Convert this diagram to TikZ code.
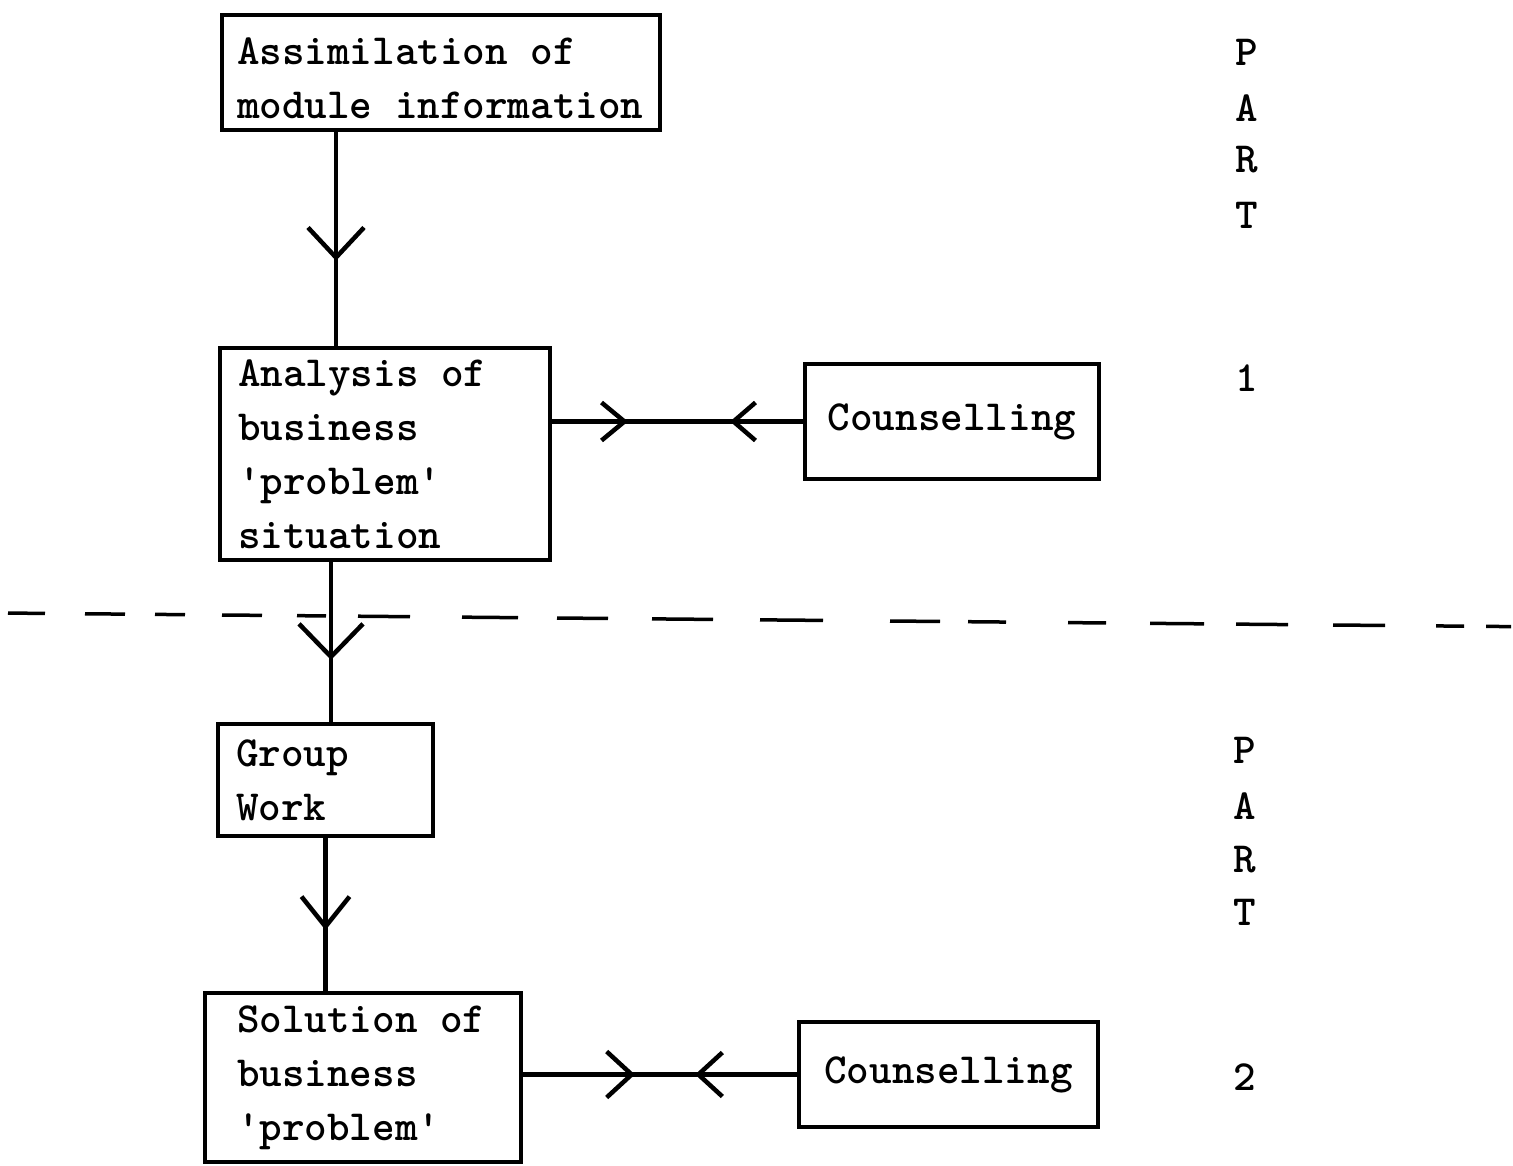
\documentclass[tikz,border=0pt]{standalone}
\usepackage{fontspec}
\usetikzlibrary{arrows.meta,decorations.markings}
\newcommand\twfont{\ttfamily\bfseries\fontsize{43}{54}\selectfont}
\tikzset{
  box/.style={draw, line width=3.5pt, outer sep=0pt, align=left, inner xsep=18pt, inner ysep=0pt, anchor=north west, font=\twfont, execute at begin node={\spaceskip=0pt\xspaceskip=0pt}},
  cbox/.style={draw, line width=3.5pt, outer sep=0pt, align=center, inner sep=0pt, anchor=north west, font=\twfont},
  lbl/.style={font=\twfont, inner sep=0pt},
  conn/.style={line width=4.5pt},
  fwdtip/.style args={#1/#2/#3}{postaction={decorate,decoration={markings,mark=at position #1 with {\arrow[line width=4.5pt]{Straight Barb[length=#2pt,width=#3pt]}}}}},
  bwdtip/.style args={#1/#2/#3}{postaction={decorate,decoration={markings,mark=at position #1 with {\arrowreversed[line width=4.5pt]{Straight Barb[length=#2pt,width=#3pt]}}}}},
  sep/.style={line width=3.5pt}
}
\begin{document}
\begin{tikzpicture}[x=1pt,y=-1pt]
\useasboundingbox (0,0) rectangle (1513,1166);
% boxes
\node[box, inner xsep=15pt, text width=408pt, minimum height=115pt] (b1) at (222,15) {\rule{0pt}{38pt}Assimilation of\\module information};
\node[box, text width=294pt, minimum height=212pt] (b2) at (220,348) {Analysis of\\business\\'problem'\\situation};
\node[cbox, minimum width=294pt, minimum height=115pt] (c1) at (805,364) {Counselling};
\node[box, text width=179pt, minimum height=112pt] (g) at (218,724) {Group\\Work};
\node[box, inner xsep=32pt, text width=252pt, minimum height=169pt] (s) at (205,993) {Solution of\\business\\'problem'};
\node[cbox, minimum width=299pt, minimum height=105pt] (c2) at (799,1022) {Counselling};
% side labels
\foreach \t/\y [count=\i] in {P/52,A/108,R/160,T/215,1/378}
  \node[lbl] (pa\i) at (1247,\y) {\t};
\foreach \t/\y [count=\i] in {P/750,A/806,R/860,T/912,2/1077}
  \node[lbl] (pb\i) at (1245,\y) {\t};
% separator (irregular hand-drawn dashes)
\foreach \a/\b in {8/45,85/125,155/185,222/262,297/326,358/410,462/518,557/608,652/713,760/823,890/940,968/1006,1068/1106,1150/1204,1236/1288,1333/1385,1436/1464,1486/1511}
  \draw[sep] (\a,{613+\a*0.009}) -- (\b,{613+\b*0.009});
% connectors
\draw[conn, fwdtip={0.6/30/56}] ([xshift=-105pt]b1.south) -- ([xshift=-105pt]b1.south |- b2.north);
\draw[conn, fwdtip={0.61/33/64}] ([xshift=-54pt]b2.south) -- ([xshift=-54pt]b2.south |- g.north);
\draw[conn, fwdtip={0.6/30/48}] (g.south) -- (g.south |- s.north);
\draw[conn, fwdtip={0.306/23/38}, bwdtip={0.706/22/38}] (c1.west -| b2.east) -- (c1.west);
\draw[conn, fwdtip={0.41/25/46}, bwdtip={0.626/24/44}] (c2.west -| s.east) -- (c2.west);
\end{tikzpicture}
\end{document}
